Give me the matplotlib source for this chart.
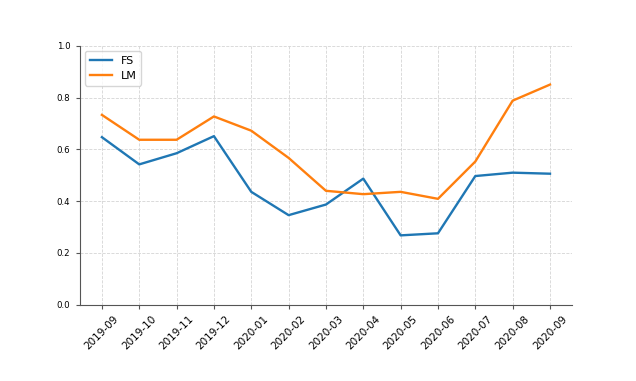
import matplotlib
matplotlib.use("Agg")
import matplotlib.pyplot as plt

months = ["2019-09", "2019-10", "2019-11", "2019-12", "2020-01", "2020-02", "2020-03",
          "2020-04", "2020-05", "2020-06", "2020-07", "2020-08", "2020-09"]
fs = [0.647, 0.542, 0.585, 0.651, 0.436, 0.346, 0.387, 0.487, 0.268, 0.276, 0.497, 0.510, 0.506]
lm = [0.733, 0.637, 0.637, 0.727, 0.672, 0.567, 0.440, 0.427, 0.436, 0.409, 0.553, 0.788, 0.850]

fig, ax = plt.subplots(figsize=(6.36, 3.81), dpi=100)
fig.subplots_adjust(left=0.125, right=0.9, top=0.88, bottom=0.2)
x = list(range(len(months)))
ax.plot(x, fs, color="#1f77b4", lw=1.7, label="FS")
ax.plot(x, lm, color="#ff7f0e", lw=1.7, label="LM")
ax.set_ylim(0, 1.0)
ax.set_xticks(x)
ax.set_xticklabels(months, rotation=45, fontsize=7.5)
ax.tick_params(axis="y", labelsize=6.2)
ax.tick_params(length=3, color="#555555")
ax.grid(True, linestyle="--", color="#d5d5d5", linewidth=0.6)
ax.spines["top"].set_visible(False)
ax.spines["right"].set_visible(False)
for s in ("left", "bottom"):
    ax.spines[s].set_color("#555555")
ax.legend(loc="upper left", fontsize=8)
fig.savefig("out.png", dpi=100)
